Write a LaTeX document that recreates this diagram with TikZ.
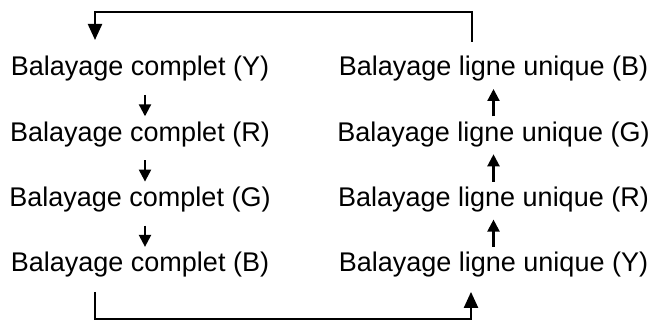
\documentclass[tikz,border=0pt]{standalone}
\usepackage{fontspec}
\setmainfont{Liberation Sans}
\usetikzlibrary{arrows.meta}

\begin{document}
\begin{tikzpicture}[x=1pt, y=1pt, font=\fontsize{27}{30}\selectfont,
  lbl/.style={anchor=base, inner sep=0pt},
  sarr/.style={line width=2.2pt, -{Triangle[width=12pt,length=12pt]}},
  barr/.style={line width=2.2pt, -{Triangle[width=14pt,length=16pt]}}]
\useasboundingbox (0,0) rectangle (664,320);
% left column: full scans
\foreach \i/\c in {1/Y,2/R,3/G,4/B}
  \node[lbl] (c\i) at (140,{309.3-65.3*\i}) {Balayage complet (\c)};
% right column: single line scans
\foreach \i/\c in {1/B,2/G,3/R,4/Y}
  \node[lbl] (u\i) at (493.5,{309.3-65.3*\i}) {Balayage ligne unique (\c)};
% steps down the left, up the right
\foreach \i/\j in {1/2,2/3,3/4} {
  \draw[sarr] ([xshift=5pt,yshift=-19pt]c\i.base) -- ([xshift=5pt,yshift=25pt]c\j.base);
  \draw[sarr] ([yshift=25pt]u\j.base) -- ([yshift=-13pt]u\i.base);
}
% loop back over the top and along the bottom
\draw[barr] ([xshift=-21.5pt,yshift=34pt]u1.base) -- ++(0,30)
  -| ([xshift=-45pt,yshift=36pt]c1.base);
\draw[barr] ([xshift=-45pt,yshift=-20pt]c4.base) -- ++(0,-27)
  -| ([xshift=-22.5pt,yshift=-20pt]u4.base);
\end{tikzpicture}
\end{document}
